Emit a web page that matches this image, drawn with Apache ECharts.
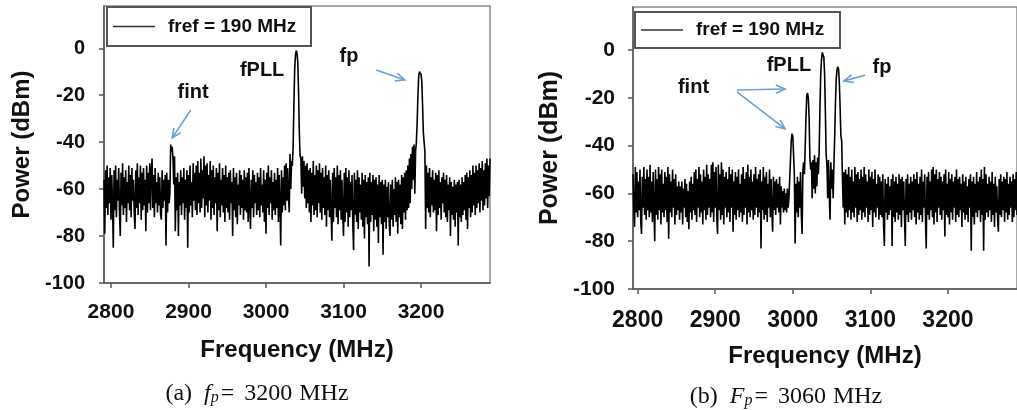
<!DOCTYPE html>
<html><head><meta charset="utf-8">
<script src="https://cdn.jsdelivr.net/npm/echarts@6/dist/echarts.min.js"></script>
<style>html,body{margin:0;padding:0;background:#fff}#c{width:1017px;height:410px}</style>
</head><body><div id="c"></div>
<script>
// ---------- data ----------
const xTicks = [2800, 2900, 3000, 3100, 3200];
const yTicks = [-100, -80, -60, -40, -20, 0];
const seriesName = 'fref = 190 MHz';

// Panel (a): fp = 3200 MHz, trace sampled every 1 MHz from 2791 MHz (rows of 20 MHz)
const aStart = 2791, aStep = 1;
const aPower = [
  -56,-79,-52,-68,-50,-71,-55,-66,-51,-73,-54,-67,-85,-52,-69,-50,-72,-56,-65,-51,
  -70,-80,-53,-67,-49,-71,-55,-68,-52,-74,-57,-66,-50,-69,-54,-72,-51,-65,-56,-70,
  -77,-52,-68,-49,-71,-55,-66,-50,-73,-53,-69,-51,-67,-56,-78,-50,-70,-53,-66,-49,
  -69,-52,-47,-68,-54,-72,-51,-66,-57,-70,-53,-67,-55,-71,-73,-52,-68,-56,-65,-54,
  -84,-53,-70,-56,-66,-62,-41,-44,-42,-47,-58,-46,-78,-55,-69,-53,-80,-57,-67,-52,
  -71,-55,-66,-51,-73,-56,-68,-52,-85,-54,-70,-50,-67,-57,-72,-49,-65,-53,-69,-50,
  -71,-48,-66,-53,-70,-47,-68,-52,-64,-46,-72,-50,-67,-49,-70,-54,-65,-48,-73,-52,
  -68,-50,-71,-55,-66,-51,-78,-53,-69,-49,-72,-56,-67,-51,-70,-54,-74,-50,-68,-55,
  -70,-53,-73,-52,-66,-57,-80,-51,-69,-55,-72,-53,-75,-58,-67,-52,-71,-54,-68,-56,
  -73,-52,-69,-55,-70,-53,-74,-51,-67,-77,-56,-68,-52,-72,-54,-66,-57,-71,-53,-69,
  -55,-72,-51,-67,-58,-70,-52,-74,-56,-79,-53,-68,-50,-71,-55,-66,-52,-73,-57,-69,
  -53,-71,-56,-68,-51,-74,-54,-66,-84,-52,-70,-55,-67,-50,-69,-49,-65,-51,-63,-70,
  -45,-60,-48,-50,-42,-24,-9,-3,-1,-2,-6,-18,-36,-46,-47,-62,-46,-59,-48,-64,
  -50,-68,-49,-66,-52,-70,-51,-74,-53,-67,-48,-71,-54,-69,-50,-72,-52,-66,-49,-70,
  -53,-73,-51,-68,-55,-71,-50,-76,-54,-69,-52,-72,-56,-70,-82,-53,-74,-51,-68,-55,
  -72,-50,-75,-54,-69,-52,-73,-56,-71,-80,-53,-74,-51,-70,-55,-76,-52,-72,-57,-69,
  -54,-75,-86,-53,-71,-56,-74,-52,-77,-55,-70,-58,-73,-53,-76,-56,-81,-54,-72,-57,
  -75,-55,-93,-53,-74,-57,-71,-54,-78,-56,-73,-55,-76,-58,-83,-54,-72,-57,-75,-56,
  -88,-58,-74,-56,-77,-59,-72,-57,-75,-80,-58,-73,-56,-76,-60,-71,-55,-74,-57,-79,
  -56,-72,-58,-75,-54,-77,-55,-70,-53,-73,-52,-69,-50,-68,-47,-66,-45,-60,-42,-56,
  -41,-62,-44,-40,-32,-20,-12,-10,-10,-11,-14,-24,-36,-40,-44,-77,-50,-68,-53,-70,
  -51,-72,-55,-67,-52,-70,-56,-69,-53,-78,-54,-71,-52,-68,-57,-73,-55,-66,-53,-70,
  -56,-72,-54,-74,-58,-69,-55,-80,-57,-71,-59,-73,-56,-76,-58,-70,-57,-84,-56,-72,
  -58,-74,-55,-71,-57,-69,-54,-73,-53,-77,-55,-68,-52,-72,-54,-70,-50,-67,-53,-71,
  -50,-68,-52,-66,-49,-70,-51,-65,-48,-69,-52,-67,-49,-64,-47,-68,-50,-63,-47
];

// Panel (b): Fp = 3060 MHz, trace sampled every 1 MHz from 2794 MHz (rows of 20 MHz)
const bStart = 2794, bStep = 1;
const bPower = [
  -52,-66,-74,-49,-68,-51,-70,-55,-67,-50,-72,-77,-53,-66,-49,-69,-54,-71,-50,-67,
  -53,-70,-48,-68,-55,-72,-51,-66,-80,-50,-69,-54,-71,-49,-67,-52,-73,-50,-68,-56,
  -70,-51,-67,-53,-72,-49,-79,-52,-68,-55,-70,-50,-66,-54,-73,-52,-69,-57,-67,-55,
  -71,-57,-68,-55,-73,-58,-66,-54,-70,-56,-72,-59,-75,-55,-68,-53,-71,-56,-67,-51,
  -69,-50,-72,-54,-66,-49,-70,-52,-68,-55,-73,-50,-67,-53,-71,-48,-69,-52,-66,-54,
  -70,-48,-68,-47,-72,-51,-66,-49,-70,-77,-48,-67,-52,-71,-47,-69,-50,-73,-53,-66,
  -51,-70,-54,-68,-49,-72,-52,-66,-50,-76,-55,-69,-51,-71,-53,-67,-50,-70,-56,-68,
  -52,-72,-49,-69,-54,-66,-51,-73,-48,-68,-53,-70,-50,-67,-55,-71,-52,-69,-49,-66,
  -54,-70,-52,-68,-50,-83,-55,-67,-49,-71,-53,-69,-51,-72,-56,-66,-50,-70,-54,-68,
  -76,-53,-67,-55,-69,-54,-66,-56,-68,-53,-73,-57,-66,-59,-68,-58,-67,-60,-68,-58,
  -66,-62,-54,-46,-38,-35,-36,-44,-52,-81,-56,-68,-53,-70,-55,-66,-51,-69,-77,-50,
  -47,-52,-40,-28,-19,-18,-20,-28,-45,-50,-47,-62,-46,-58,-44,-60,-47,-57,-45,-52,
  -42,-24,-10,-4,-1,-1,-3,-10,-26,-44,-48,-62,-46,-60,-71,-47,-58,-50,-62,-48,
  -36,-22,-12,-8,-7,-8,-14,-24,-36,-38,-54,-66,-51,-73,-50,-68,-52,-70,-49,-67,
  -53,-71,-50,-68,-55,-70,-49,-66,-52,-72,-51,-69,-54,-67,-50,-71,-53,-68,-49,-70,
  -52,-66,-55,-72,-50,-69,-53,-67,-51,-74,-54,-68,-50,-70,-56,-66,-52,-71,-53,-69,
  -55,-70,-52,-73,-82,-54,-68,-56,-71,-53,-69,-57,-67,-54,-82,-52,-70,-55,-72,-53,
  -68,-56,-71,-52,-69,-54,-74,-53,-67,-55,-70,-82,-54,-69,-52,-72,-56,-68,-53,-71,
  -55,-67,-52,-70,-54,-73,-51,-68,-56,-71,-53,-69,-50,-72,-55,-66,-52,-70,-83,-53,
  -69,-51,-71,-55,-67,-50,-70,-49,-73,-52,-68,-50,-72,-54,-66,-51,-69,-53,-71,-55,
  -67,-52,-78,-50,-69,-56,-70,-51,-73,-54,-68,-52,-71,-55,-66,-53,-72,-50,-69,-54,
  -70,-53,-67,-56,-74,-52,-68,-55,-71,-53,-69,-57,-72,-54,-66,-52,-84,-55,-70,-53,
  -73,-56,-68,-51,-70,-55,-67,-53,-72,-50,-69,-54,-84,-49,-71,-52,-68,-56,-70,-53,
  -67,-55,-72,-51,-69,-56,-74,-53,-68,-57,-71,-76,-54,-69,-52,-70,-55,-67,-53,-72,
  -54,-68,-51,-71,-56,-69,-53,-66,-55,-72,-52,-70,-54,-67,-51,-69
];

// annotation text labels and arrows, in data coordinates [freq MHz, dBm]
const annA = {
  labels: [['fint', 2906, -19], ['fPLL', 2995, -9.3], ['fp', 3107, -3.7]],
  arrows: [[2903, -26.3, 2879, -38.2], [3142, -9.3, 3179, -13.5]]
};
const annB = {
  labels: [['fint', 2872, -15.5], ['fPLL', 2995, -6.3], ['fp', 3115, -7.5]],
  arrows: [[2928, -16.7, 2990, -16.3], [2928, -17.5, 2990, -33], [3093, -10.5, 3066, -13]]
};
const captionA = ['(a)', 'f', 'p', '=', '3200', 'MHz'];
const captionB = ['(b)', 'F', 'p', '=', '3060', 'MHz'];

// ---------- chart ----------
const SANS = '"Liberation Sans", Arial, sans-serif';
const SERIF = '"Liberation Serif", "Times New Roman", serif';
const AXIS_COLOR = '#555';
const ARROW_COLOR = '#6d9ed6';

const chart = echarts.init(document.getElementById('c'), null, { renderer: 'canvas' });

function xAxisCfg(grid, min, max, labelSize, margin) {
  return {
    type: 'value', gridIndex: grid, min: min, max: max,
    name: 'Frequency (MHz)', nameLocation: 'middle', nameGap: 55,
    nameTextStyle: { fontFamily: SANS, fontWeight: 'bold', fontSize: 24, color: '#111' },
    axisLine: { show: true, onZero: false, lineStyle: { color: AXIS_COLOR, width: 1.5 } },
    axisTick: { show: true, customValues: xTicks, length: 5, lineStyle: { color: AXIS_COLOR, width: 1.5 } },
    axisLabel: { customValues: xTicks, formatter: v => String(v), margin: margin, fontFamily: SANS, fontWeight: 'bold', fontSize: labelSize, color: '#111' },
    splitLine: { show: false }
  };
}
function yAxisCfg(grid, labelSize, margin, nameSize) {
  return {
    type: 'value', gridIndex: grid, min: -100, max: 18,
    name: 'Power (dBm)', nameLocation: 'middle', nameGap: 70, nameRotate: 90,
    nameTextStyle: { fontFamily: SANS, fontWeight: 'bold', fontSize: nameSize, color: '#111' },
    axisLine: { show: true, onZero: false, lineStyle: { color: AXIS_COLOR, width: 1.5 } },
    axisTick: { show: true, customValues: yTicks, length: 5, lineStyle: { color: AXIS_COLOR, width: 1.5 } },
    axisLabel: { customValues: yTicks, formatter: v => String(v), margin: margin, fontFamily: SANS, fontWeight: 'bold', fontSize: labelSize, color: '#111' },
    splitLine: { show: false }
  };
}
function lineSeries(idx, start, step, vals) {
  return {
    type: 'line', name: seriesName, xAxisIndex: idx, yAxisIndex: idx,
    data: vals.map((v, i) => [start + i * step, v]),
    showSymbol: false, symbol: 'none', sampling: null, animation: false,
    lineStyle: { color: '#000', width: 1.6, join: 'bevel' }, itemStyle: { color: '#000' }
  };
}

chart.setOption({
  animation: false,
  backgroundColor: '#fff',
  grid: [
    { left: 104, top: 6, width: 386, height: 277, show: true, borderColor: '#8a8a8a', borderWidth: 1.5, backgroundColor: '#fff' },
    { left: 633, top: 7, width: 389, height: 282, show: true, borderColor: '#8a8a8a', borderWidth: 1.5, backgroundColor: '#fff' }
  ],
  xAxis: [xAxisCfg(0, 2791, 3289, 21, 19), xAxisCfg(1, 2794, 3289, 23, 20)],
  yAxis: [yAxisCfg(0, 20, 19, 24), yAxisCfg(1, 21, 18, 25)],
  series: [lineSeries(0, aStart, aStep, aPower), lineSeries(1, bStart, bStep, bPower)]
});

function arrowEls(p1, p2) {
  const ang = Math.atan2(p2[1] - p1[1], p2[0] - p1[0]);
  const L = 10, w = 0.42;
  const h1 = [p2[0] - L * Math.cos(ang - w), p2[1] - L * Math.sin(ang - w)];
  const h2 = [p2[0] - L * Math.cos(ang + w), p2[1] - L * Math.sin(ang + w)];
  return [
    { type: 'line', silent: true, shape: { x1: p1[0], y1: p1[1], x2: p2[0], y2: p2[1] }, style: { stroke: ARROW_COLOR, lineWidth: 1.6 } },
    { type: 'polyline', silent: true, shape: { points: [h1, p2, h2] }, style: { stroke: ARROW_COLOR, lineWidth: 1.6, fill: null } }
  ];
}
function annotationEls(grid, ann) {
  const els = [];
  ann.labels.forEach(([t, f, d]) => {
    const p = chart.convertToPixel({ gridIndex: grid }, [f, d]);
    els.push({ type: 'text', silent: true, x: p[0], y: p[1],
      style: { text: t, font: 'bold 20px ' + SANS, fill: '#111', align: 'center', verticalAlign: 'middle' } });
  });
  ann.arrows.forEach(([f1, d1, f2, d2]) => {
    const p1 = chart.convertToPixel({ gridIndex: grid }, [f1, d1]);
    const p2 = chart.convertToPixel({ gridIndex: grid }, [f2, d2]);
    els.push(...arrowEls(p1, p2));
  });
  return els;
}
function legendEls(x, y, w, h) {
  return [
    { type: 'rect', silent: true, shape: { x: x, y: y, width: w, height: h }, style: { fill: '#fff', stroke: '#555', lineWidth: 2 } },
    { type: 'line', silent: true, shape: { x1: x + 6, y1: y + h / 2, x2: x + 48, y2: y + h / 2 }, style: { stroke: '#333', lineWidth: 1.5 } },
    { type: 'text', silent: true, x: x + 61, y: y + h / 2,
      style: { text: seriesName, font: 'bold 19px ' + SANS, fill: '#111', align: 'left', verticalAlign: 'middle' } }
  ];
}
function captionEl(cx, cy, c) {
  return {
    type: 'text', silent: true, x: cx, y: cy,
    style: {
      text: '{t|' + c[0] + '}{i|' + c[1] + '}{s|' + c[2] + '}{e|' + c[3] + '}{n|' + c[4] + '}{u|' + c[5] + '}',
      font: '24px ' + SERIF, fill: '#111', align: 'center', verticalAlign: 'middle',
      rich: {
        t: { fontFamily: SERIF, fontSize: 24, lineHeight: 28, verticalAlign: 'bottom', padding: [0, 12, 0, 0] },
        i: { fontFamily: SERIF, fontSize: 24, fontStyle: 'italic', lineHeight: 28, verticalAlign: 'bottom' },
        s: { fontFamily: SERIF, fontSize: 16, fontStyle: 'italic', lineHeight: 16, verticalAlign: 'bottom', padding: [0, 2, 0, 0] },
        e: { fontFamily: SERIF, fontSize: 24, lineHeight: 28, verticalAlign: 'bottom', padding: [0, 10, 0, 0] },
        n: { fontFamily: SERIF, fontSize: 24, lineHeight: 28, verticalAlign: 'bottom', padding: [0, 7, 0, 0] },
        u: { fontFamily: SERIF, fontSize: 24, lineHeight: 28, verticalAlign: 'bottom' }
      }
    }
  };
}

chart.setOption({
  graphic: [].concat(
    legendEls(107, 7, 204, 39),
    legendEls(635, 12, 205, 36),
    annotationEls(0, annA),
    annotationEls(1, annB),
    [captionEl(257, 392, captionA), captionEl(786, 395, captionB)]
  )
});
</script>
</body></html>
